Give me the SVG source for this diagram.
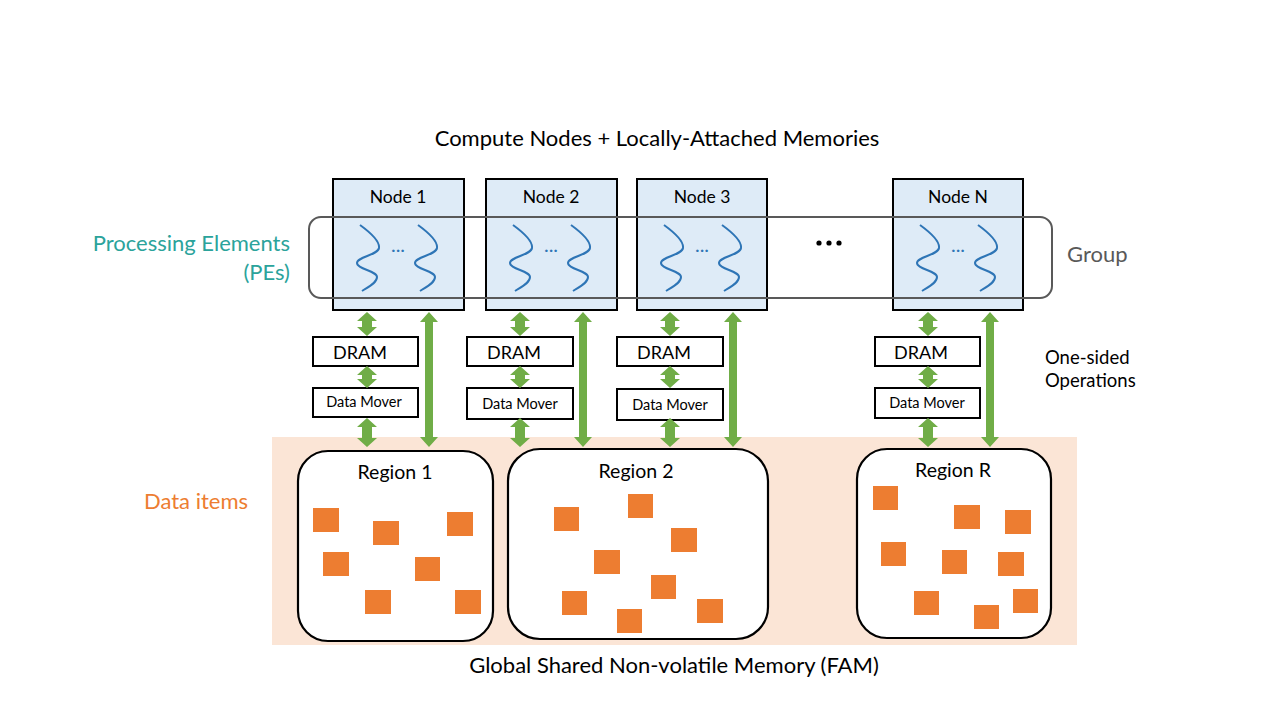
<svg xmlns="http://www.w3.org/2000/svg" xmlns:xlink="http://www.w3.org/1999/xlink" width="1280" height="720" viewBox="0 0 1280 720">
<style>
text{font-family:Lato,"Liberation Sans",sans-serif;fill:#000}
.node{fill:#DEEBF7;stroke:#000;stroke-width:2}
.box{fill:#fff;stroke:#000;stroke-width:2}
.region{fill:#fff;stroke:#000;stroke-width:2.2}
.sq{fill:#ED7D31}
.arr{fill:#70AD47}
.thr{fill:none;stroke:#2E75B6;stroke-width:2}
.grp{fill:none;stroke:#595959;stroke-width:2}
.nl{font-size:17.5px;text-anchor:middle}
.dots{font-size:20px;fill:#2E75B6;text-anchor:middle}
.dram{font-size:18px;text-anchor:middle}
.dm{font-size:14.5px;text-anchor:middle}
.rl{font-size:19.5px;text-anchor:middle}
</style>
<defs>
<path id="arrA" d="M0,312 L10,321 L5,321 L5,327 L10,327 L0,336 L-10,327 L-5,327 L-5,321 L-10,321 Z"/>
<path id="arrB" d="M0,366 L10,375 L5,375 L5,379 L10,379 L0,388 L-10,379 L-5,379 L-5,375 L-10,375 Z"/>
<path id="arrC" d="M0,418 L10,427 L5,427 L5,438 L10,438 L0,447 L-10,438 L-5,438 L-5,427 L-10,427 Z"/>
<path id="arrL" d="M0,312 L9,322 L4,322 L4,437 L9,437 L0,447 L-9,437 L-4,437 L-4,322 L-9,322 Z"/>
<path id="thread" d="M27,46 C38,54 47,62 46,69 C45,76 24,78 24,84 C24,90 44,92 44,98 C44,104 35,108 29,112"/>
</defs>

<rect id="fam" x="272" y="437" width="805" height="208" fill="#FBE5D6"/>

<text x="657" y="146" font-size="22" text-anchor="middle">Compute Nodes + Locally-Attached Memories</text>
<text x="674" y="673" font-size="22" text-anchor="middle">Global Shared Non-volatile Memory (FAM)</text>
<g id="label-pe">
<text x="290" y="251" font-size="22" text-anchor="end" style="fill:#2BA39B">Processing Elements</text>
<text x="290" y="280" font-size="22" text-anchor="end" style="fill:#2BA39B">(PEs)</text>
</g>
<text id="label-data" x="196" y="509" font-size="22" text-anchor="middle" style="fill:#ED7D31">Data items</text>
<text id="label-group" x="1067" y="262" font-size="22" style="fill:#595959">Group</text>
<g id="label-ops">
<text x="1045" y="364" font-size="18.5">One-sided</text>
<text x="1045" y="387" font-size="18.5">Operations</text>
</g>

<g id="node1" transform="translate(333,179)">
<rect class="node" x="0" y="0" width="131" height="131"/>
<text class="nl" x="65" y="24">Node 1</text>
<use xlink:href="#thread" class="thr"/>
<use xlink:href="#thread" class="thr" x="58"/>
<text class="dots" x="65" y="73">...</text>
</g>
<g id="node2" transform="translate(486,179)">
<rect class="node" x="0" y="0" width="131" height="131"/>
<text class="nl" x="65" y="24">Node 2</text>
<use xlink:href="#thread" class="thr"/>
<use xlink:href="#thread" class="thr" x="58"/>
<text class="dots" x="65" y="73">...</text>
</g>
<g id="node3" transform="translate(637,179)">
<rect class="node" x="0" y="0" width="130" height="131"/>
<text class="nl" x="65" y="24">Node 3</text>
<use xlink:href="#thread" class="thr"/>
<use xlink:href="#thread" class="thr" x="58"/>
<text class="dots" x="65" y="73">...</text>
</g>
<g id="nodeN" transform="translate(893,179)">
<rect class="node" x="0" y="0" width="130" height="131"/>
<text class="nl" x="65" y="24">Node N</text>
<use xlink:href="#thread" class="thr"/>
<use xlink:href="#thread" class="thr" x="58"/>
<text class="dots" x="65" y="73">...</text>
</g>

<g id="ellipsis">
<circle cx="819" cy="243" r="2.6"/>
<circle cx="829" cy="243" r="2.6"/>
<circle cx="839" cy="243" r="2.6"/>
</g>

<rect id="group" class="grp" x="309" y="217" width="743" height="81" rx="12"/>

<g id="dram1"><rect class="box" x="313" y="337" width="105" height="29"/><text class="dram" x="360" y="359">DRAM</text></g>
<g id="dm1"><rect class="box" x="313" y="388" width="105" height="29"/><text class="dm" x="364" y="407">Data Mover</text></g>
<g id="dram2"><rect class="box" x="467" y="337" width="106" height="29"/><text class="dram" x="514" y="359">DRAM</text></g>
<g id="dm2"><rect class="box" x="467" y="388" width="106" height="31"/><text class="dm" x="520" y="409">Data Mover</text></g>
<g id="dram3"><rect class="box" x="617" y="337" width="106" height="29"/><text class="dram" x="664" y="359">DRAM</text></g>
<g id="dm3"><rect class="box" x="617" y="389" width="106" height="31"/><text class="dm" x="670" y="410">Data Mover</text></g>
<g id="dramN"><rect class="box" x="875" y="337" width="105" height="29"/><text class="dram" x="921" y="359">DRAM</text></g>
<g id="dmN"><rect class="box" x="875" y="388" width="105" height="30"/><text class="dm" x="927" y="408">Data Mover</text></g>

<g id="connectors" class="arr">
<use xlink:href="#arrA" x="367"/><use xlink:href="#arrB" x="367"/><use xlink:href="#arrC" x="367"/><use xlink:href="#arrL" x="429"/>
<use xlink:href="#arrA" x="520"/><use xlink:href="#arrB" x="520"/><use xlink:href="#arrC" x="520"/><use xlink:href="#arrL" x="583"/>
<use xlink:href="#arrA" x="670"/><use xlink:href="#arrB" x="670"/><use xlink:href="#arrC" x="670"/><use xlink:href="#arrL" x="733"/>
<use xlink:href="#arrA" x="928"/><use xlink:href="#arrB" x="928"/><use xlink:href="#arrC" x="928"/><use xlink:href="#arrL" x="990"/>
</g>

<g id="region1">
<rect class="region" x="298" y="451" width="195" height="190" rx="30"/>
<text class="rl" x="395" y="479">Region 1</text>
<rect class="sq" x="313" y="508" width="26" height="24"/>
<rect class="sq" x="373" y="521" width="26" height="24"/>
<rect class="sq" x="447" y="512" width="26" height="24"/>
<rect class="sq" x="323" y="552" width="26" height="24"/>
<rect class="sq" x="415" y="557" width="25" height="24"/>
<rect class="sq" x="365" y="590" width="26" height="24"/>
<rect class="sq" x="455" y="590" width="26" height="24"/>
</g>
<g id="region2">
<rect class="region" x="508" y="449" width="260" height="190" rx="32"/>
<text class="rl" x="636" y="478">Region 2</text>
<rect class="sq" x="554" y="507" width="25" height="24"/>
<rect class="sq" x="628" y="494" width="25" height="24"/>
<rect class="sq" x="671" y="528" width="26" height="24"/>
<rect class="sq" x="594" y="550" width="26" height="24"/>
<rect class="sq" x="651" y="575" width="25" height="24"/>
<rect class="sq" x="562" y="591" width="25" height="24"/>
<rect class="sq" x="617" y="609" width="25" height="24"/>
<rect class="sq" x="697" y="599" width="26" height="24"/>
</g>
<g id="regionR">
<rect class="region" x="857" y="449" width="194" height="189" rx="30"/>
<text class="rl" x="953" y="477">Region R</text>
<rect class="sq" x="873" y="486" width="25" height="24"/>
<rect class="sq" x="954" y="505" width="26" height="24"/>
<rect class="sq" x="1005" y="510" width="26" height="24"/>
<rect class="sq" x="881" y="542" width="25" height="24"/>
<rect class="sq" x="942" y="550" width="25" height="24"/>
<rect class="sq" x="998" y="552" width="26" height="24"/>
<rect class="sq" x="914" y="591" width="25" height="24"/>
<rect class="sq" x="974" y="605" width="25" height="24"/>
<rect class="sq" x="1013" y="589" width="25" height="24"/>
</g>
</svg>
